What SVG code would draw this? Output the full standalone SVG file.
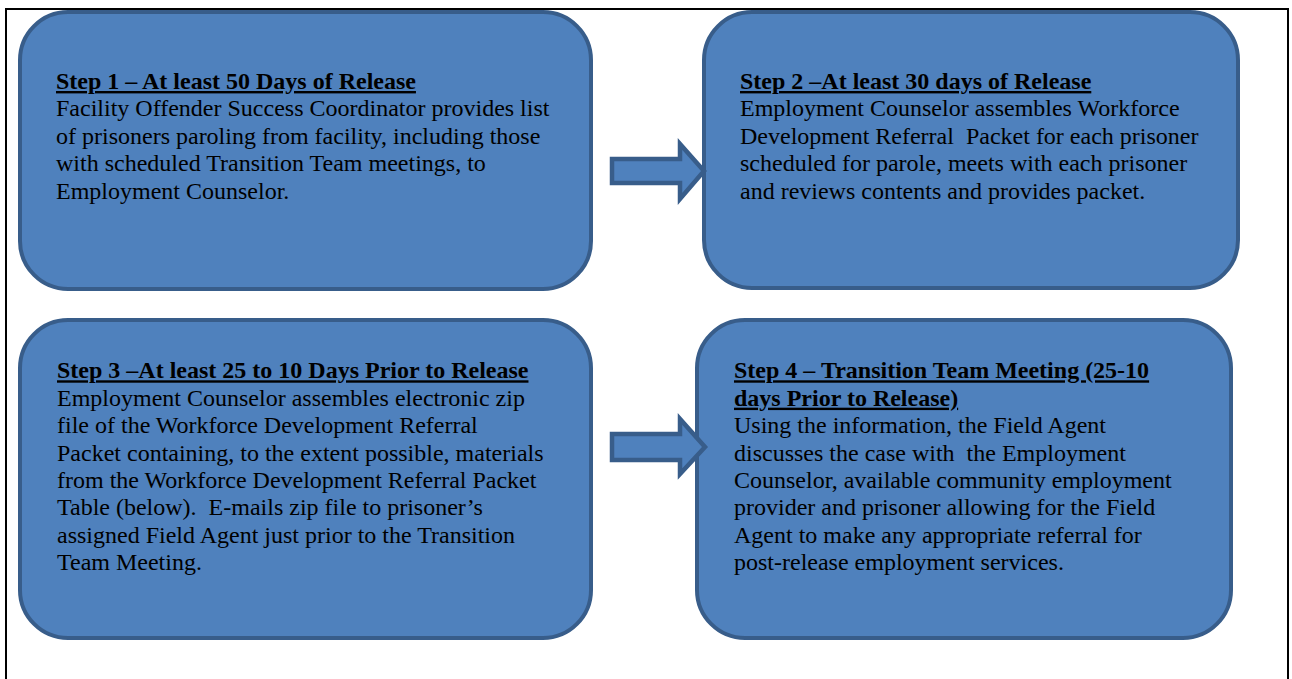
<svg xmlns="http://www.w3.org/2000/svg" width="1292" height="679" viewBox="0 0 1292 679">
<style>
.box{fill:#4f81bd;stroke:#385d8a;stroke-width:4}
.arr{fill:#4f81bd;stroke:#385d8a;stroke-width:4.5;stroke-linejoin:miter}
.t{font-family:"Liberation Serif","Times New Roman",serif;font-size:24px;fill:#000;white-space:pre}
.h{font-weight:bold;text-decoration:underline}
.frame{fill:none;stroke:#000;stroke-width:2}
</style>
<rect width="1292" height="679" fill="#fff"/>
<path class="frame" d="M6,680 V9 H1288 V680"/>
<g id="step1">
<rect class="box" x="20" y="12" width="571" height="277" rx="48" ry="48"/>
<text class="t" x="56">
<tspan class="h" x="56" y="89">Step 1 – At least 50 Days of Release</tspan>
<tspan x="56" y="116.4">Facility Offender Success Coordinator provides list</tspan>
<tspan x="56" y="143.8">of prisoners paroling from facility, including those</tspan>
<tspan x="56" y="171.2">with scheduled Transition Team meetings, to</tspan>
<tspan x="56" y="198.6">Employment Counselor.</tspan>
</text>
</g>
<g id="step2">
<rect class="box" x="704" y="12" width="534" height="276" rx="48" ry="48"/>
<text class="t" x="740">
<tspan class="h" x="740" y="89">Step 2 –At least 30 days of Release</tspan>
<tspan x="740" y="116.4">Employment Counselor assembles Workforce</tspan>
<tspan x="740" y="143.8">Development Referral  Packet for each prisoner</tspan>
<tspan x="740" y="171.2">scheduled for parole, meets with each prisoner</tspan>
<tspan x="740" y="198.6">and reviews contents and provides packet.</tspan>
</text>
</g>
<g id="step3">
<rect class="box" x="20" y="320" width="571" height="318" rx="48" ry="48"/>
<text class="t" x="57">
<tspan class="h" x="57" y="378.3">Step 3 –At least 25 to 10 Days Prior to Release</tspan>
<tspan x="57" y="405.7">Employment Counselor assembles electronic zip</tspan>
<tspan x="57" y="433.1">file of the Workforce Development Referral</tspan>
<tspan x="57" y="460.5">Packet containing, to the extent possible, materials</tspan>
<tspan x="57" y="487.9">from the Workforce Development Referral Packet</tspan>
<tspan x="57" y="515.3">Table (below).  E-mails zip file to prisoner’s</tspan>
<tspan x="57" y="542.7">assigned Field Agent just prior to the Transition</tspan>
<tspan x="57" y="570.1">Team Meeting.</tspan>
</text>
</g>
<g id="step4">
<rect class="box" x="697" y="320" width="534" height="318" rx="48" ry="48"/>
<text class="t" x="734">
<tspan class="h" x="734" y="378.3">Step 4 – Transition Team Meeting (25-10</tspan>
<tspan class="h" x="734" y="405.7">days Prior to Release)</tspan>
<tspan x="734" y="433.1">Using the information, the Field Agent</tspan>
<tspan x="734" y="460.5">discusses the case with  the Employment</tspan>
<tspan x="734" y="487.9">Counselor, available community employment</tspan>
<tspan x="734" y="515.3">provider and prisoner allowing for the Field</tspan>
<tspan x="734" y="542.7">Agent to make any appropriate referral for</tspan>
<tspan x="734" y="570.1">post-release employment services.</tspan>
</text>
</g>
<g id="connectors">
<polygon class="arr" points="612,159 680,159 680,144 704,171 680,199 680,183 612,183"/>
<polygon class="arr" points="612,434 680,434 680,419 705,447 680,474 680,460 612,460"/>
</g>
</svg>
